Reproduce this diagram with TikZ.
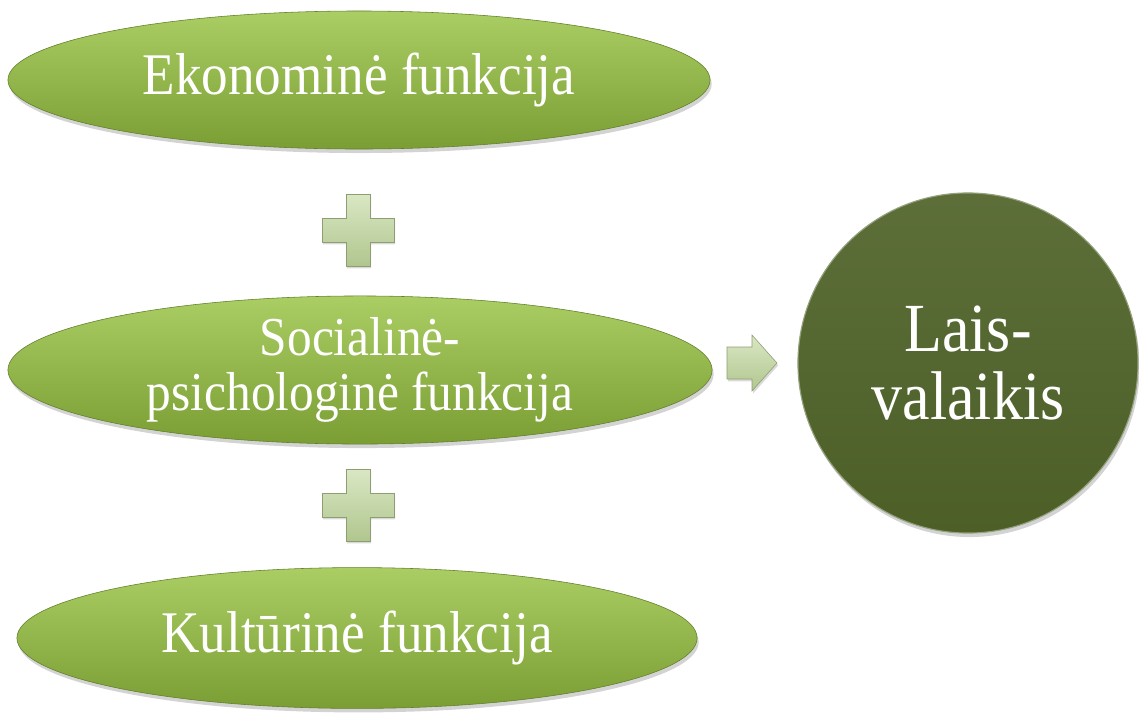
\documentclass[tikz,border=0pt]{standalone}
\usepackage{fontspec}
\setmainfont{Liberation Serif}[FakeStretch=0.9]
\usetikzlibrary{shapes.geometric}
\usetikzlibrary{shadows}

\definecolor{leafhi}{RGB}{170,205,100}
\definecolor{leaflo}{RGB}{122,158,52}
\definecolor{olive}{RGB}{79,98,40}
\definecolor{mint}{RGB}{218,231,196}
\definecolor{mintlo}{RGB}{176,198,142}

\tikzset{
	oval/.style={ellipse, inner sep=0pt, top color=leafhi, bottom color=leaflo,
		draw=leaflo!80!black, line width=0.4pt, text=white, align=center,
		font=\fontsize{42}{39}\selectfont,
		drop shadow={opacity=0.35, shadow xshift=0.04cm, shadow yshift=-0.1cm}},
	sign/.style={top color=mint, bottom color=mintlo, draw=mintlo!80!black, line width=0.4pt,
		drop shadow={opacity=0.3, shadow xshift=0.03cm, shadow yshift=-0.06cm}}
}

\begin{document}
\begin{tikzpicture}[x=0.025cm, y=-0.025cm]
		\useasboundingbox (0,0) rectangle (1139,713);

		\node [oval, minimum width=17.55cm, minimum height=3.45cm] (eko) at (359,80) {Ekonominė funkcija};
		\node [oval, minimum width=17.6cm, minimum height=3.62cm, font=\fontsize{39}{39}\selectfont] (soc) at (360,370) {Socialinė-\\psichologinė funkcija};
		\node [oval, minimum width=17cm, minimum height=3.52cm] (kul) at (357,638) {Kultūrinė funkcija};

		\node [circle, minimum size=8.5cm, inner sep=0pt, top color=olive!92!white, bottom color=olive!97!black,
			draw=olive!60!white, line width=0.8pt, text=white, align=center,
			font=\fontsize{49}{48}\selectfont,
			drop shadow={opacity=0.35, shadow xshift=0.04cm, shadow yshift=-0.1cm}] (lais) at (968,363) {Lais-\\valaikis};

		% pliusai
		\draw [sign] (358,230) ++(-12,-36) --++(24,0) --++(0,24) --++(24,0) --++(0,24) --++(-24,0)
			--++(0,24) --++(-24,0) --++(0,-24) --++(-24,0) --++(0,-24) --++(24,0) --cycle;
		\draw [sign] (358,505) ++(-12,-36) --++(24,0) --++(0,24) --++(24,0) --++(0,24) --++(-24,0)
			--++(0,24) --++(-24,0) --++(0,-24) --++(-24,0) --++(0,-24) --++(24,0) --cycle;

		% rodykle
		\draw [sign] (727,347) --++(25,0) --++(0,-12) --++(25,28) --++(-25,28) --++(0,-12) --++(-25,0) --cycle;
	\end{tikzpicture}
\end{document}
